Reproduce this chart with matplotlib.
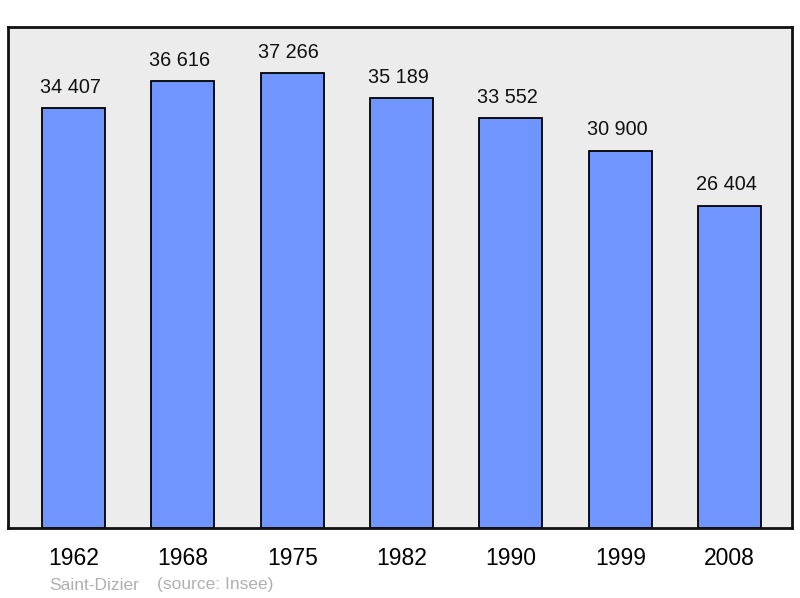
import matplotlib.pyplot as plt

# Population of Saint-Dizier by census year
years = ['1962', '1968', '1975', '1982', '1990', '1999', '2008']
population = [34407, 36616, 37266, 35189, 33552, 30900, 26404]
value_labels = ['34 407', '36 616', '37 266', '35 189', '33 552', '30 900', '26 404']

plt.rcParams['font.family'] = ['Liberation Sans', 'DejaVu Sans']

fig = plt.figure(figsize=(8, 5.98), dpi=100)
ax = fig.add_axes([8 / 800, 70 / 598, 784 / 800, 501 / 598])
ax.set_facecolor('#ececec')

x = range(len(years))
bars = ax.bar(x, population, width=0.576, color='#7095ff',
              edgecolor='black', linewidth=1.3, zorder=2)

for xi, val, lab in zip(x, population, value_labels):
    ax.annotate(lab, (xi, val), xytext=(-2.5, 11), textcoords='offset points',
                ha='center', va='baseline', fontsize=14.3, color='#111111')

ax.set_xlim(-0.6, 6.57)
ax.set_ylim(0, 41035)
ax.set_xticks(list(x))
ax.set_xticklabels(years, fontsize=16.5)
ax.tick_params(axis='x', length=0, pad=14)
ax.set_yticks([])
for s in ax.spines.values():
    s.set_linewidth(2)
    s.set_color('#111111')

fig.text(49 / 800, 1 - 585 / 598, 'Saint-Dizier', fontsize=12.5,
         color='#b0b0b0', va='center', ha='left')
fig.text(157 / 800, 1 - 585 / 598, '(source: Insee)', fontsize=12.5,
         color='#b0b0b0', va='center', ha='left')

fig.savefig('out.png', dpi=100)
